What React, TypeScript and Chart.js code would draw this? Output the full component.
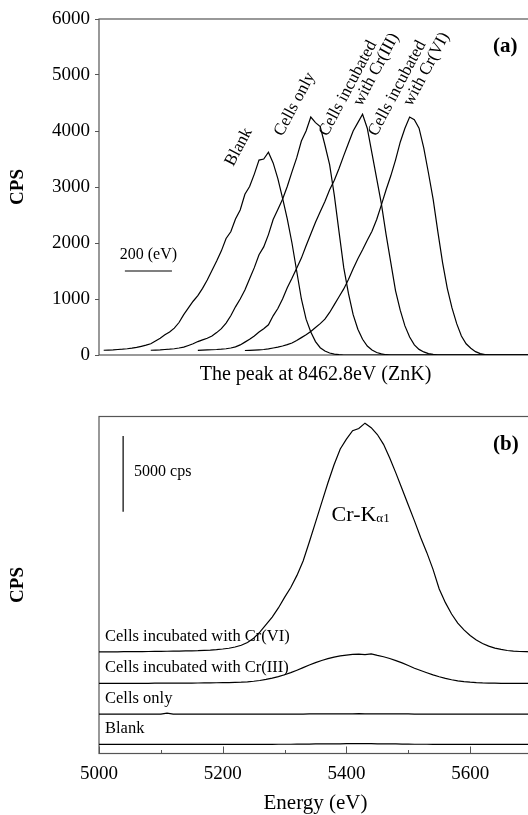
import React, { useEffect, useRef } from 'react';
import { Chart, registerables } from 'chart.js';

Chart.register(...registerables);

const FONT = "'Times New Roman', 'Liberation Serif', serif";

// ---------------- Panel (a): ZnK peak, shifted scans ----------------
const energyA = [
  0, 20, 40, 60, 80, 100, 120, 140, 160, 180, 200, 220, 240, 260, 280, 300, 320, 340, 360, 380,
  400, 420, 440, 460, 480, 500, 520, 540, 560, 580, 600, 620, 640, 660, 680, 700, 720, 740, 760, 780,
  800, 820, 840, 860, 880, 900, 920, 940, 960, 980, 1000, 1020, 1040, 1060, 1080, 1100, 1120, 1140, 1160, 1180,
  1200, 1220, 1240, 1260, 1280, 1300, 1320, 1340, 1360, 1380, 1400, 1420, 1440, 1460, 1480, 1500, 1520, 1540, 1560, 1580,
  1600, 1620, 1640, 1660, 1680, 1700, 1720, 1740, 1760, 1780, 1800, 1820, 1840,
];
const yTicksA = [0, 1000, 2000, 3000, 4000, 5000, 6000];
const namesA = ['Blank', 'Cells only', 'Cells incubated with Cr(III)', 'Cells incubated with Cr(VI)'];
const startIndexA = [1, 11, 21, 31];

const blankA = [
  85, 88, 92, 98, 104, 112, 122, 135, 155, 175,
  200, 250, 300, 360, 410, 480, 580, 720, 840, 960,
  1060, 1190, 1340, 1510, 1680, 1860, 2080, 2200, 2430, 2590,
  2870, 3010, 3230, 3480, 3500, 3620, 3430, 3150, 2800, 2430,
  2000, 1500, 1000, 640, 410, 240, 130, 70, 35, 15,
  5, 0,
  0, 0, 0, 0, 0, 0, 0, 0, 0, 0, 0, 0, 0, 0, 0, 0, 0, 0, 0, 0,
  0, 0, 0, 0, 0, 0, 0, 0, 0, 0, 0, 0, 0, 0, 0, 0, 0, 0, 0, 0,
];
const cellsOnlyA = [
  85, 88, 92, 98, 104, 112, 125, 140, 170, 200,
  240, 270, 300, 340, 400, 470, 570, 700, 860, 1000,
  1160, 1360, 1560, 1790, 1930, 2150, 2420, 2600, 2780, 3010,
  3270, 3520, 3820, 4000, 4250, 4150, 4080, 3750, 3400, 2850,
  2200, 1560, 1100, 720, 460, 280, 160, 90, 45, 20,
  5, 0,
  0, 0, 0, 0, 0, 0, 0, 0, 0, 0, 0, 0, 0, 0, 0, 0, 0, 0, 0, 0,
  0, 0, 0, 0, 0, 0, 0, 0, 0, 0,
];
const crIIIA = [
  82, 86, 90, 94, 98, 104, 112, 125, 145, 180,
  230, 280, 340, 410, 470, 540, 700, 830, 1000, 1200,
  1370, 1550, 1730, 1950, 2160, 2370, 2560, 2740, 2950, 3120,
  3330, 3560, 3780, 4000, 4150, 4300, 4050, 3600, 3150, 2700,
  2150, 1650, 1150, 800, 520, 320, 180, 100, 55, 25,
  10, 0,
  0, 0, 0, 0, 0, 0, 0, 0, 0, 0, 0, 0, 0, 0, 0, 0, 0, 0, 0, 0,
];
const crVIA = [
  80, 84, 88, 93, 98, 110, 125, 140, 160, 185,
  215, 260, 310, 360, 420, 490, 560, 640, 760, 900,
  1040, 1180, 1350, 1540, 1720, 1880, 2050, 2210, 2420, 2680,
  2950, 3200, 3480, 3800, 4050, 4250, 4200, 4050, 3700, 3250,
  2780, 2200, 1650, 1190, 840, 560, 340, 200, 120, 60,
  25, 8, 0,
  0, 0, 0, 0, 0, 0, 0, 0, 0,
];
const valuesA = [blankA, cellsOnlyA, crIIIA, crVIA];

// rotated label anchors (energy, cps) and lines
const labelLinesA = [
  [{ text: 'Blank', e: 570, c: 3357 }],
  [{ text: 'Cells only', e: 779, c: 3893 }],
  [{ text: 'Cells incubated', e: 970, c: 3893 }, { text: 'with Cr(III)', e: 1115, c: 4429 }],
  [{ text: 'Cells incubated', e: 1179, c: 3893 }, { text: 'with Cr(VI)', e: 1328, c: 4429 }],
];
const scaleBarA = { start: 110, length: 200, level: 1500, label: '200 (eV)' };

// ---------------- Panel (b): Cr-Kα1 region ----------------
const energyB = [
  5000, 5010, 5020, 5030, 5040, 5050, 5060, 5070, 5080, 5090,
  5100, 5110, 5120, 5130, 5140, 5150, 5160, 5170, 5180, 5190,
  5200, 5210, 5220, 5230, 5240, 5250, 5260, 5270, 5280, 5290,
  5300, 5310, 5320, 5330, 5340, 5350, 5360, 5370, 5380, 5390,
  5400, 5410, 5420, 5430, 5440, 5450, 5460, 5470, 5480, 5490,
  5500, 5510, 5520, 5530, 5540, 5550, 5560, 5570, 5580, 5590,
  5600, 5610, 5620, 5630, 5640, 5650, 5660, 5670, 5680, 5690,
  5700,
];
const xMajorTicksB = [5000, 5200, 5400, 5600];
const xMinorTicksB = [5100, 5300, 5500, 5700];
const namesB = ['Blank', 'Cells only', 'Cells incubated with Cr(III)', 'Cells incubated with Cr(VI)'];
const baselineOffsetsB = [600, 2600, 4630, 6710];

const blankB = [
  0, 0, 0, 0, 0, 0, 0, 0, 0, 0,
  0, 0, 0, 0, 0, 0, 0, 0, 0, 0,
  0, 0, 0, 0, 0, 0, 0, 0, 0, 10,
  10, 10, 20, 20, 20, 30, 30, 30, 40, 40,
  50, 50, 50, 50, 50, 40, 40, 30, 30, 20,
  20, 10, 10, 10, 0, 0, 0, 0, 0, 0,
  0, 0, 0, 0, 0, 0, 0, 0, 0, 0,
  0,
];
const cellsOnlyB = [
  0, 0, 0, 0, 0, 0, 0, 0, 0, 0,
  0, 70, 0, 0, 0, 0, 0, 0, 0, 0,
  0, 0, 0, 0, 0, 0, 0, 0, 0, 0,
  0, 0, 0, 0, 10, 10, 10, 20, 20, 20,
  20, 20, 30, 20, 20, 20, 20, 10, 10, 10,
  10, 0, 0, 0, 0, 0, 0, 0, 0, 0,
  0, 0, 0, 0, 0, 0, 0, 0, 0, 0,
  0,
];
const crIIIB = [
  0, 0, 0, 0, 0, 0, 5, 5, 5, 10,
  10, 10, 15, 15, 20, 20, 25, 30, 35, 40,
  45, 55, 65, 80, 105, 140, 190, 260, 350, 450,
  570, 710, 870, 1040, 1210, 1370, 1510, 1630, 1730, 1820,
  1870, 1910, 1930, 1900, 1950, 1850, 1760, 1640, 1500, 1350,
  1180, 1000, 850, 700, 560, 440, 330, 240, 170, 120,
  80, 50, 30, 20, 10, 5, 0, 0, 0, 0,
  0,
];
const crVIB = [
  0, 0, 0, 0, 10, 10, 15, 20, 25, 30,
  35, 40, 45, 50, 60, 70, 80, 100, 120, 150,
  190, 240, 320, 440, 620, 900, 1300, 1800, 2300, 2900,
  3600, 4250, 5050, 6000, 7250, 8550, 9850, 11150, 12350, 13400,
  14050, 14600, 14750, 15100, 14800, 14350, 13700, 12800, 11800, 10750,
  9700, 8650, 7550, 6550, 5450, 4150, 3250, 2500, 1900, 1450,
  1080, 780, 550, 380, 250, 160, 90, 50, 25, 10,
  0,
];
const valuesB = [blankB, cellsOnlyB, crIIIB, crVIB];
const scaleBarB = { energy: 5039, from: 15960, length: 5000, label: '5000 cps' };
const peakLabelB = { e: 5376, c: 15750, main: 'Cr-K', sub: 'α1' };

// ---------------- helpers ----------------
function drawFrame(chart: any) {
  const { ctx, chartArea: a } = chart;
  ctx.save();
  ctx.strokeStyle = '#555';
  ctx.lineWidth = 1.2;
  ctx.strokeRect(a.left, a.top, a.right - a.left, a.bottom - a.top);
  ctx.restore();
}

function noPad(s: any) {
  s.paddingLeft = 0;
  s.paddingRight = 0;
  s.paddingTop = 0;
  s.paddingBottom = 0;
}

const panelAPlugin = {
  id: 'panelA',
  beforeDatasetsDraw(chart: any) {
    drawFrame(chart);
  },
  afterDatasetsDraw(chart: any) {
    const { ctx, scales, chartArea } = chart;
    const xs = scales.x;
    const ys = scales.y;
    ctx.save();
    ctx.fillStyle = '#000';
    ctx.font = `17px ${FONT}`;
    ctx.textAlign = 'left';
    ctx.textBaseline = 'alphabetic';
    labelLinesA.forEach((lines) => {
      lines.forEach((ln) => {
        const px = xs.getPixelForValue(ln.e);
        const py = ys.getPixelForValue(ln.c);
        ctx.save();
        ctx.translate(px, py);
        ctx.rotate((-62 * Math.PI) / 180);
        ctx.fillText(ln.text, 0, 0);
        ctx.restore();
      });
    });
    // scale bar
    const x1 = xs.getPixelForValue(scaleBarA.start);
    const x2 = xs.getPixelForValue(scaleBarA.start + scaleBarA.length);
    const yb = ys.getPixelForValue(scaleBarA.level);
    ctx.strokeStyle = '#000';
    ctx.lineWidth = 1.2;
    ctx.beginPath();
    ctx.moveTo(x1, yb);
    ctx.lineTo(x2, yb);
    ctx.stroke();
    ctx.font = `16px ${FONT}`;
    ctx.textAlign = 'center';
    ctx.fillText(scaleBarA.label, (x1 + x2) / 2, yb - 12);
    // panel tag
    ctx.font = `bold 21px ${FONT}`;
    ctx.textAlign = 'left';
    ctx.textBaseline = 'middle';
    ctx.fillText('(a)', 493, chartArea.top + 28);
    ctx.restore();
  },
};

const panelBPlugin = {
  id: 'panelB',
  beforeDatasetsDraw(chart: any) {
    drawFrame(chart);
    const { ctx, scales, chartArea } = chart;
    const xs = scales.x;
    ctx.save();
    ctx.strokeStyle = '#555';
    ctx.lineWidth = 1;
    xMajorTicksB.forEach((v) => {
      const p = Math.round(xs.getPixelForValue(v)) + 0.5;
      ctx.beginPath();
      ctx.moveTo(p, chartArea.bottom);
      ctx.lineTo(p, chartArea.bottom - 7);
      ctx.stroke();
    });
    xMinorTicksB.forEach((v) => {
      const p = Math.round(xs.getPixelForValue(v)) + 0.5;
      ctx.beginPath();
      ctx.moveTo(p, chartArea.bottom);
      ctx.lineTo(p, chartArea.bottom - 3.5);
      ctx.stroke();
    });
    ctx.restore();
  },
  afterDatasetsDraw(chart: any) {
    const { ctx, scales, chartArea } = chart;
    const xs = scales.x;
    const ys = scales.y;
    ctx.save();
    ctx.fillStyle = '#000';
    // row labels
    ctx.font = `16.5px ${FONT}`;
    ctx.textAlign = 'left';
    ctx.textBaseline = 'alphabetic';
    namesB.forEach((name, i) => {
      const py = ys.getPixelForValue(baselineOffsetsB[i]) - 11;
      ctx.fillText(name, chartArea.left + 6, py);
    });
    // scale bar
    const bx = xs.getPixelForValue(scaleBarB.energy);
    const y1 = ys.getPixelForValue(scaleBarB.from);
    const y2 = ys.getPixelForValue(scaleBarB.from + scaleBarB.length);
    ctx.strokeStyle = '#000';
    ctx.lineWidth = 1.2;
    ctx.beginPath();
    ctx.moveTo(bx, y1);
    ctx.lineTo(bx, y2);
    ctx.stroke();
    ctx.font = `16px ${FONT}`;
    ctx.textBaseline = 'middle';
    ctx.fillText(scaleBarB.label, bx + 11, (y1 + y2) / 2 - 2);
    // peak label
    const lx = xs.getPixelForValue(peakLabelB.e);
    const ly = ys.getPixelForValue(peakLabelB.c);
    ctx.font = `22px ${FONT}`;
    ctx.fillText(peakLabelB.main, lx, ly);
    const w = ctx.measureText(peakLabelB.main).width;
    ctx.font = `13px ${FONT}`;
    ctx.fillText(peakLabelB.sub, lx + w, ly + 4);
    // panel tag
    ctx.font = `bold 21px ${FONT}`;
    ctx.fillText('(b)', 493, chartArea.top + 28);
    ctx.restore();
  },
};

function lineDataset(label: string, data: { x: number; y: number }[]) {
  return {
    label,
    data,
    borderColor: '#000',
    borderWidth: 1.2,
    pointRadius: 0,
    fill: false,
    tension: 0,
  };
}

export default function App() {
  const refA = useRef<HTMLCanvasElement | null>(null);
  const refB = useRef<HTMLCanvasElement | null>(null);

  useEffect(() => {
    if (!refA.current || !refB.current) return;

    const datasetsA = valuesA.map((vals, s) =>
      lineDataset(
        namesA[s],
        vals.map((v, i) => ({ x: energyA[startIndexA[s] + i], y: v }))
      )
    );

    const chartA = new Chart(refA.current, {
      type: 'line',
      data: { datasets: datasetsA as any },
      options: {
        animation: false,
        responsive: false,
        events: [],
        layout: { padding: { top: 19, right: 2, bottom: 0, left: 0 } },
        plugins: { legend: { display: false }, tooltip: { enabled: false } },
        scales: {
          x: {
            type: 'linear',
            min: energyA[0],
            max: energyA[energyA.length - 1],
            ticks: { display: false },
            grid: { display: false },
            border: { display: false },
            title: {
              display: true,
              text: 'The peak at 8462.8eV (ZnK)',
              color: '#000',
              font: { family: FONT, size: 20, lineHeight: 1 },
              padding: { top: 0, bottom: 15 },
            },
            afterFit: (s: any) => {
              s.height = 45;
              noPad(s);
            },
          },
          y: {
            type: 'linear',
            min: 0,
            max: 6000,
            afterBuildTicks: (s: any) => {
              s.ticks = yTicksA.map((v) => ({ value: v }));
            },
            ticks: {
              color: '#000',
              font: { family: FONT, size: 19 },
              padding: 5,
              callback: (v: any) => String(v),
            },
            grid: { drawOnChartArea: false, tickLength: 4, color: '#555' },
            border: { display: false },
            title: {
              display: true,
              text: 'CPS',
              color: '#000',
              font: { family: FONT, size: 19, weight: 'bold', lineHeight: 1 },
              padding: { top: 8.5, bottom: 0 },
            },
            afterFit: (s: any) => {
              s.width = 99;
              noPad(s);
            },
          },
        },
      } as any,
      plugins: [panelAPlugin],
    });

    const datasetsB = valuesB.map((vals, s) =>
      lineDataset(
        namesB[s],
        vals.map((v, i) => ({ x: energyB[i], y: baselineOffsetsB[s] + v }))
      )
    );
    const allTicksB = [...xMajorTicksB, ...xMinorTicksB].sort((a, b) => a - b);

    const chartB = new Chart(refB.current, {
      type: 'line',
      data: { datasets: datasetsB as any },
      options: {
        animation: false,
        responsive: false,
        events: [],
        layout: { padding: { top: 16.5, right: 2, bottom: 0, left: 0 } },
        plugins: { legend: { display: false }, tooltip: { enabled: false } },
        scales: {
          x: {
            type: 'linear',
            min: 5000,
            max: 5700,
            afterBuildTicks: (s: any) => {
              s.ticks = allTicksB.map((v) => ({ value: v }));
            },
            ticks: {
              color: '#000',
              font: { family: FONT, size: 19 },
              padding: 1,
              autoSkip: false,
              maxRotation: 0,
              callback: (v: any) => (xMajorTicksB.includes(Number(v)) ? String(v) : ''),
            },
            grid: { display: false },
            border: { display: false },
            title: {
              display: true,
              text: 'Energy (eV)',
              color: '#000',
              font: { family: FONT, size: 21, lineHeight: 1 },
              padding: { top: 0, bottom: 1.5 },
            },
            afterFit: (s: any) => {
              s.height = 61.5;
              noPad(s);
            },
          },
          y: {
            type: 'linear',
            min: 0,
            max: 22250,
            ticks: { display: false },
            grid: { display: false },
            border: { display: false },
            title: {
              display: true,
              text: 'CPS',
              color: '#000',
              font: { family: FONT, size: 19, weight: 'bold', lineHeight: 1 },
              padding: { top: 8.5, bottom: 0 },
            },
            afterFit: (s: any) => {
              s.width = 99;
              noPad(s);
            },
          },
        },
      } as any,
      plugins: [panelBPlugin],
    });

    return () => {
      chartA.destroy();
      chartB.destroy();
    };
  }, []);

  return (
    <div
      style={{
        position: 'fixed',
        left: 0,
        top: 0,
        width: 528,
        height: 815,
        overflow: 'hidden',
        background: '#fff',
      }}
    >
      <canvas ref={refA} width={534} height={400} style={{ position: 'absolute', left: 0, top: 0 }} />
      <canvas ref={refB} width={534} height={415} style={{ position: 'absolute', left: 0, top: 400 }} />
    </div>
  );
}
